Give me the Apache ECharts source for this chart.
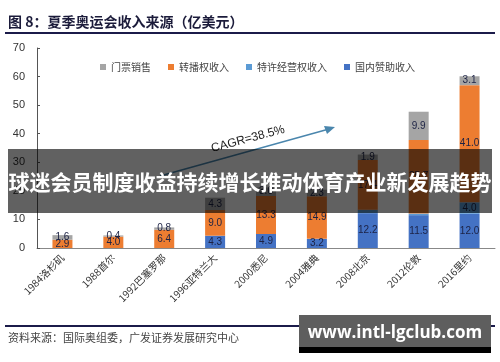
<!DOCTYPE html>
<html><head><meta charset="utf-8">
<script src="https://cdn.jsdelivr.net/npm/echarts@6/dist/echarts.min.js"></script>
<style>html,body{margin:0;padding:0;background:#fff}#c{width:500px;height:362px}</style>
</head><body><div id="c"></div>
<script>
var categories = ['1984洛杉矶','1988首尔','1992巴塞罗那','1996亚特兰大','2000悉尼','2004雅典','2008北京','2012伦敦','2016里约'];
var sponsorship = [0,0,0,4.3,4.9,3.2,12.2,11.5,12.0];   // 国内赞助收入
var licensing = [0,0,0,0,0,0,1.2,0.6,4.0];             // 特许经营权收入
var broadcast = [2.9,4.0,6.4,9.0,13.3,14.9,17.4,25.7,41.0]; // 转播权收入
var ticketing = [1.6,0.4,0.8,4.3,3.0,2.3,1.9,9.9,3.1];  // 门票销售
var yTicks = [0,10,20,30,40,50,60,70];
var legendNames = ['门票销售','转播权收入','特许经营权收入','国内赞助收入'];

var chart = echarts.init(document.getElementById('c'));
var CJK = '"Noto Sans CJK SC", sans-serif';
function lbl(minV){
  return {show:true, position:'inside', fontSize:10, color:'#1c2244', fontFamily:'Arial, "Liberation Sans", sans-serif',
    formatter:function(p){ return (p.value>minV)? p.value.toFixed(1) : ''; }};
}
function bar(name, data, color, minV){
  return {name:name, type:'bar', stack:'t', data:data, barWidth:20,
    itemStyle:{color:color}, label:lbl(minV), animation:false};
}
chart.setOption({
  animation:false,
  textStyle:{fontFamily:CJK},
  grid:{left:37, right:5, top:48, bottom:114, containLabel:false},
  legend:{data:legendNames, left:95, top:57, icon:'rect', itemWidth:6, itemHeight:6, itemGap:17,
    textStyle:{fontSize:10, color:'#444', fontFamily:CJK}},
  xAxis:{type:'category', data:categories,
    axisLine:{lineStyle:{color:'#888', width:1}},
    axisTick:{show:true, alignWithLabel:true, inside:true, length:3, lineStyle:{color:'#444'}},
    axisLabel:{rotate:45, fontSize:10, color:'#333', margin:8, interval:0, fontFamily:CJK}},
  yAxis:{type:'value', min:yTicks[0], max:yTicks[yTicks.length-1], interval:10,
    splitLine:{show:false},
    axisLine:{show:true, lineStyle:{color:'#555'}},
    axisTick:{show:true, inside:true, length:3, lineStyle:{color:'#555'}},
    axisLabel:{fontSize:11, color:'#333', margin:12, fontFamily:'Arial, "Liberation Sans", sans-serif'}},
  series:[
    bar('国内赞助收入', sponsorship, '#4472c4', 0),
    bar('特许经营权收入', licensing, '#5b9bd5', 2),
    bar('转播权收入', broadcast, '#ed7d31', 0),
    bar('门票销售', ticketing, '#a5a5a5', 0)
  ],
  graphic:[
    {type:'text', left:8, top:15, style:{text:'图 8：夏季奥运会收入来源（亿美元）', fontSize:14, fontWeight:'bold', fill:'#1b1b3a', fontFamily:CJK}},
    {type:'rect', shape:{x:5, y:32, width:490, height:2}, style:{fill:'#1b1b4a'}},
    {type:'line', shape:{x1:160, y1:176, x2:329, y2:129}, style:{stroke:'#4a86ad', lineWidth:1.5}, z:5},
    {type:'polygon', shape:{points:[[335,127],[324,126],[327,134]]}, style:{fill:'#4a86ad'}, z:5},
    {type:'text', x:248, y:139, rotation:0.26, style:{text:'CAGR=38.5%', fontSize:12, fill:'#222', textAlign:'center', textVerticalAlign:'middle', fontFamily:'Arial, "Liberation Sans", sans-serif'}, z:5},
    {type:'rect', shape:{x:8, y:149, width:484, height:64}, style:{fill:'rgba(0,0,0,0.62)'}, z:100},
    {type:'text', x:250, y:182, style:{text:'球迷会员制度收益持续增长推动体育产业新发展趋势', fontSize:21, fontWeight:'bold', fill:'#fff', textAlign:'center', textVerticalAlign:'middle', fontFamily:CJK}, z:101},
    {type:'rect', shape:{x:5, y:325, width:490, height:2}, style:{fill:'#1b1b4a'}, z:1},
    {type:'text', left:8, top:332, style:{text:'资料来源：国际奥组委，广发证券发展研究中心', fontSize:11, fill:'#444', fontFamily:CJK}},
    {type:'rect', shape:{x:299, y:315, width:192, height:32}, style:{fill:'#5e5e5e'}, z:100},
    {type:'rect', shape:{x:299, y:347, width:192, height:6}, style:{fill:'#000'}, z:100},
    {type:'text', x:395, y:333, style:{text:'www.intl-lgclub.com', fontSize:17, fontWeight:'bold', fill:'#fff', textAlign:'center', textVerticalAlign:'middle', fontFamily:'"Open Sans", "DejaVu Sans", sans-serif'}, z:101}
  ]
});
</script></body></html>
